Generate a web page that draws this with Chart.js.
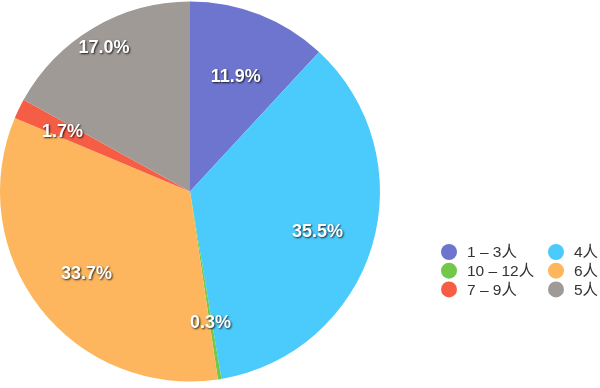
<!DOCTYPE html>
<html>
<head>
<meta charset="utf-8">
<script src="https://cdn.jsdelivr.net/npm/chart.js@4"></script>
<style>
html,body{margin:0;padding:0;background:#fff;}
#wrap{width:600px;height:388px;position:relative;}
</style>
</head>
<body>
<div id="wrap"><canvas id="c" width="600" height="388"></canvas></div>
<script>
const categories = ["1 – 3人", "4人", "10 – 12人", "6人", "7 – 9人", "5人"];
const values = [11.9, 35.5, 0.3, 33.7, 1.7, 17.0];
const colors = ["#6D75CE", "#4BCBFC", "#72C84B", "#FDB65D", "#F65D45", "#A09A96"];
const legendOrder = [0, 2, 4, 1, 3, 5];
const labelRadius = [0.66, 0.70, 0.69, 0.69, 0.745, 0.89];

const labelPlugin = {
  id: 'pctLabels',
  afterDatasetsDraw(chart) {
    const ctx = chart.ctx;
    const meta = chart.getDatasetMeta(0);
    ctx.save();
    ctx.font = 'bold 18px "Liberation Sans", Arial, sans-serif';
    ctx.textAlign = 'center';
    ctx.textBaseline = 'middle';
    meta.data.forEach((arc, i) => {
      const p = arc.getProps(['x','y','startAngle','endAngle','outerRadius'], true);
      const mid = (p.startAngle + p.endAngle) / 2;
      const r = p.outerRadius * labelRadius[i];
      const x = p.x + Math.cos(mid) * r;
      const y = p.y + Math.sin(mid) * r + 2;
      ctx.shadowColor = 'rgba(0,0,0,0.8)';
      ctx.shadowBlur = 2;
      ctx.shadowOffsetX = 1;
      ctx.shadowOffsetY = 1.5;
      ctx.fillStyle = '#fff';
      ctx.fillText(values[i].toFixed(1) + '%', x, y);
    });
    ctx.restore();
  }
};

const legendPlugin = {
  id: 'twoColLegend',
  afterDraw(chart) {
    const ctx = chart.ctx;
    ctx.save();
    ctx.font = '15.5px "Liberation Sans", "Noto Sans CJK SC", Arial, sans-serif';
    ctx.textBaseline = 'middle';
    ctx.textAlign = 'left';
    legendOrder.forEach((idx, k) => {
      const col = Math.floor(k / 3);
      const row = k % 3;
      const cx = 449 + col * 107;
      const cy = 252 + row * 18.7;
      ctx.beginPath();
      ctx.arc(cx, cy, 8, 0, Math.PI * 2);
      ctx.fillStyle = colors[idx];
      ctx.fill();
      ctx.fillStyle = '#333';
      ctx.fillText(categories[idx], cx + 18, cy + 1);
    });
    ctx.restore();
  }
};

new Chart(document.getElementById('c'), {
  type: 'pie',
  data: {
    labels: categories,
    datasets: [{
      data: values,
      backgroundColor: colors,
      borderWidth: 0
    }]
  },
  options: {
    responsive: false,
    animation: false,
    layout: { padding: { left: 0, top: 1, bottom: 6, right: 220 } },
    plugins: { legend: { display: false }, tooltip: { enabled: false } }
  },
  plugins: [labelPlugin, legendPlugin]
});
</script>
</body>
</html>
